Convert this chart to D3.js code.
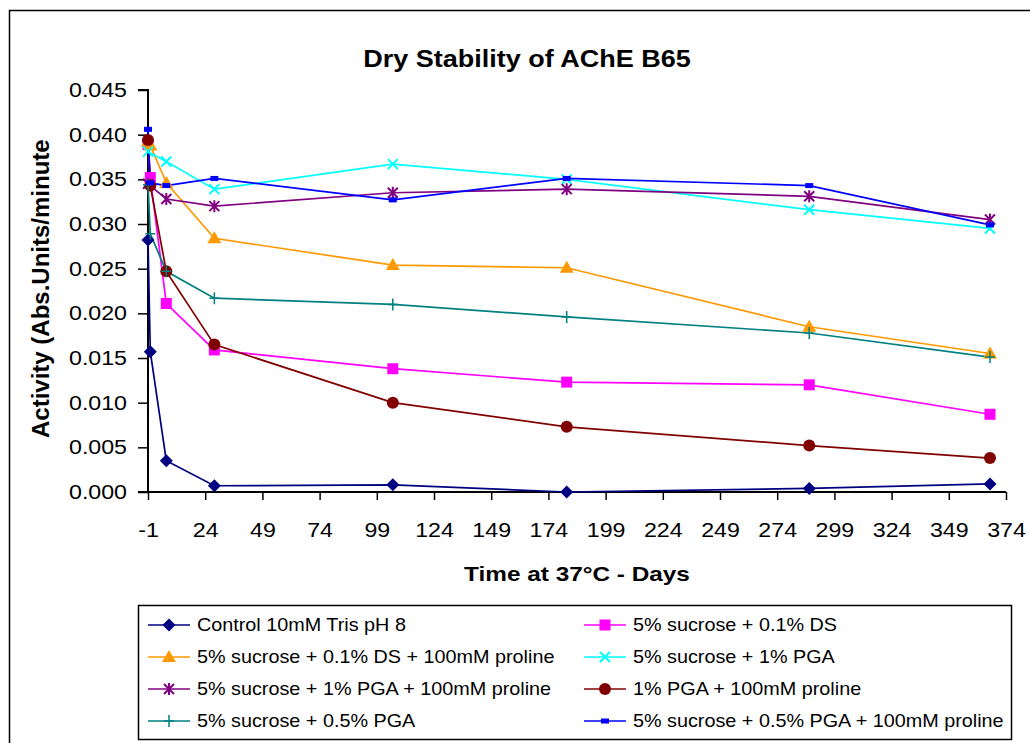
<!DOCTYPE html>
<html><head><meta charset="utf-8">
<script src="https://cdn.jsdelivr.net/npm/d3@7"></script>
<style>body{margin:0;background:#fff}svg{display:block;font-family:Arial,"Liberation Sans",sans-serif}</style>
</head><body><svg id="c" width="1030" height="743"></svg>
<script>
const title = "Dry Stability of AChE B65";
const xTitle = "Time at 37°C - Days";
const yTitle = "Activity (Abs.Units/minute";
const xTicks = [-1, 24, 49, 74, 99, 124, 149, 174, 199, 224, 249, 274, 299, 324, 349, 374];
const yTicks = [0, 0.005, 0.010, 0.015, 0.020, 0.025, 0.030, 0.035, 0.040, 0.045];

const seriesNames = [
  "Control 10mM Tris pH 8",
  "5% sucrose + 0.1% DS",
  "5% sucrose + 0.1% DS + 100mM proline",
  "5% sucrose + 1% PGA",
  "5% sucrose + 1% PGA + 100mM proline",
  "1% PGA + 100mM proline",
  "5% sucrose + 0.5% PGA",
  "5% sucrose + 0.5% PGA + 100mM proline"
];
const controlDays   = [-1, 0, 7, 28, 106, 182, 288, 367];
const controlVals   = [0.0282, 0.0157, 0.0035, 0.0007, 0.0008, 0.0000, 0.0004, 0.0009];
const dsDays        = [-1, 0, 7, 28, 106, 182, 288, 367];
const dsVals        = [0.0389, 0.0352, 0.0211, 0.0159, 0.0138, 0.0123, 0.0120, 0.0087];
const dsProDays     = [-1, 0, 7, 28, 106, 182, 288, 367];
const dsProVals     = [0.0392, 0.0388, 0.0346, 0.0284, 0.0254, 0.0251, 0.0185, 0.0155];
const pgaDays       = [-1, 7, 28, 106, 182, 288, 367];
const pgaVals       = [0.0381, 0.0370, 0.0339, 0.0367, 0.0350, 0.0316, 0.0295];
const pgaProDays    = [-1, 7, 28, 106, 182, 288, 367];
const pgaProVals    = [0.0345, 0.0328, 0.0320, 0.0335, 0.0339, 0.0331, 0.0305];
const pga1ProDays   = [-1, 0, 7, 28, 106, 182, 288, 367];
const pga1ProVals   = [0.0394, 0.0343, 0.0247, 0.0165, 0.0100, 0.0073, 0.0052, 0.0038];
const pga05Days     = [-1, 0, 7, 28, 106, 182, 288, 367];
const pga05Vals     = [0.0344, 0.0289, 0.0247, 0.0217, 0.0210, 0.0196, 0.0178, 0.0151];
const pga05ProDays  = [-1, 0, 7, 28, 106, 182, 288, 367];
const pga05ProVals  = [0.0406, 0.0346, 0.0343, 0.0351, 0.0327, 0.0351, 0.0343, 0.0299];

const colors  = ["#000080", "#FF00FF", "#FF9900", "#00FFFF", "#800080", "#800000", "#008080", "#0000FF"];
const markers = ["diamond", "square", "triangle", "x", "asterisk", "circle", "plus", "dash"];

const allDays = [controlDays, dsDays, dsProDays, pgaDays, pgaProDays, pga1ProDays, pga05Days, pga05ProDays];
const allVals = [controlVals, dsVals, dsProVals, pgaVals, pgaProVals, pga1ProVals, pga05Vals, pga05ProVals];
const series = seriesNames.map((n, i) => ({name: n, color: colors[i], marker: markers[i],
  pts: allDays[i].map((d, j) => ({x: d, y: allVals[i][j]}))}));

const svg = d3.select("#c");
const L = 148, R = 1006, T = 90, B = 492;
const x = d3.scaleLinear().domain([-1, 374]).range([L, R]);
const y = d3.scaleLinear().domain([0, 0.045]).range([B, T]);

function stretch(sel, sx, origin) {
  sel.style("transform-box", "fill-box").style("transform-origin", origin || "center")
     .style("transform", `scaleX(${sx})`);
}

// outer border
svg.append("rect").attr("x", 9.5).attr("y", 10.5).attr("width", 1040).attr("height", 760)
  .attr("fill", "none").attr("stroke", "#000").attr("stroke-width", 1.5);

stretch(svg.append("text").attr("x", 527).attr("y", 67).attr("text-anchor", "middle")
  .attr("font-weight", "bold").attr("font-size", 23.5).text(title), 1.15);

// axes
const yAxis = d3.axisLeft(y).tickValues(yTicks).tickFormat(d3.format(".3f")).tickSize(10).tickPadding(11);
const gy = svg.append("g").attr("transform", `translate(${L},0)`).call(yAxis);
const xAxis = d3.axisBottom(x).tickValues(xTicks).tickFormat(d => String(d)).tickSize(8).tickPadding(23);
const gx = svg.append("g").attr("transform", `translate(0,${B})`).call(xAxis);
[gy, gx].forEach(g => {
  g.selectAll("path.domain").attr("stroke", "#000").attr("stroke-width", 2);
  g.selectAll(".tick line").attr("stroke", "#000").attr("stroke-width", 1.5);
  g.selectAll("text").attr("font-size", 20).attr("font-family", "Arial, 'Liberation Sans', sans-serif").attr("fill", "#000");
});
stretch(gy.selectAll(".tick text"), 1.16, "right center");
stretch(gx.selectAll(".tick text"), 1.16, "center");
gy.select("path.domain").attr("d", `M-10,${T}H0V${B}H-10`);
gx.select("path.domain").attr("d", `M${L},0H${R}`);

stretch(svg.append("text").attr("x", 577).attr("y", 581).attr("text-anchor", "middle")
  .attr("font-weight", "bold").attr("font-size", 21).text(xTitle), 1.16);
svg.append("text").attr("transform", "translate(49,438) rotate(-90)").attr("text-anchor", "start")
  .attr("font-weight", "bold").attr("font-size", 24).text(yTitle);

function drawMarker(g, type, color, cx, cy) {
  const s = g.append("g").attr("transform", `translate(${cx},${cy})`);
  switch (type) {
    case "diamond": s.append("path").attr("d", "M0,-6.5L6.5,0L0,6.5L-6.5,0Z").attr("fill", color); break;
    case "square": s.append("rect").attr("x", -5.5).attr("y", -5.5).attr("width", 11).attr("height", 11).attr("fill", color); break;
    case "triangle": s.append("path").attr("d", "M0,-7L7,5L-7,5Z").attr("fill", color); break;
    case "x": s.append("path").attr("d", "M-5,-5L5,5M-5,5L5,-5").attr("stroke", color).attr("stroke-width", 2); break;
    case "asterisk": s.append("path").attr("d", "M-5,-5L5,5M-5,5L5,-5M0,-6V6").attr("stroke", color).attr("stroke-width", 2); break;
    case "circle": s.append("circle").attr("r", 6).attr("fill", color); break;
    case "plus": s.append("path").attr("d", "M-5,0H5M0,-6V6").attr("stroke", color).attr("stroke-width", 1.5); break;
    case "dash": s.append("rect").attr("x", -4).attr("y", -2.5).attr("width", 8).attr("height", 5).attr("fill", color); break;
  }
}

const line = d3.line().x(d => x(d.x)).y(d => y(d.y));
const plot = svg.append("g");
series.forEach(s => {
  plot.append("path").datum(s.pts).attr("d", line).attr("fill", "none")
    .attr("stroke", s.color).attr("stroke-width", 1.7);
});
series.forEach(s => {
  s.pts.forEach(p => drawMarker(plot, s.marker, s.color, x(p.x), y(p.y)));
});

// legend
const lg = svg.append("g");
lg.append("rect").attr("x", 138.5).attr("y", 605.5).attr("width", 873).attr("height", 134)
  .attr("fill", "#fff").attr("stroke", "#000").attr("stroke-width", 1.5);
series.forEach((s, i) => {
  const col = i % 2, row = Math.floor(i / 2);
  const lx = col === 0 ? 148 : 584, ly = 625 + row * 32;
  lg.append("line").attr("x1", lx).attr("x2", lx + 42).attr("y1", ly).attr("y2", ly)
    .attr("stroke", s.color).attr("stroke-width", 1.7);
  drawMarker(lg, s.marker, s.color, lx + 21, ly);
  stretch(lg.append("text").attr("x", lx + 49).attr("y", ly + 6.5).attr("font-size", 18).text(s.name), 1.1, "left center");
});
</script></body></html>
